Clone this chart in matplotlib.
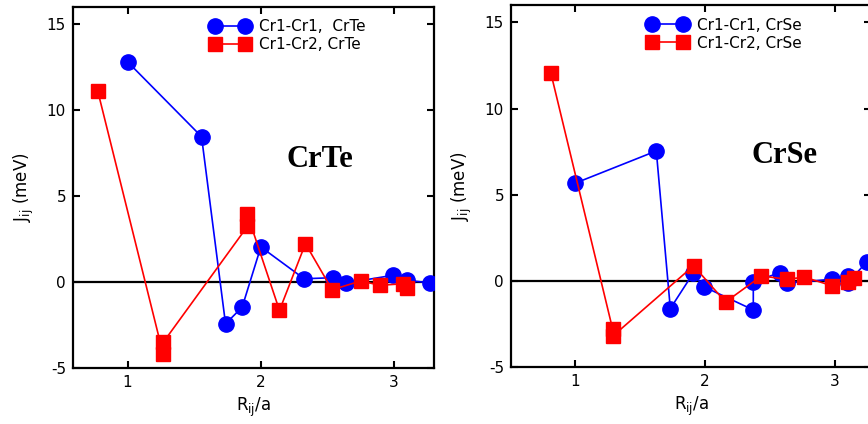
import matplotlib
matplotlib.use('Agg')
import matplotlib.pyplot as plt

plt.rcParams['axes.unicode_minus'] = False

# CrTe, Cr1-Cr1 and Cr1-Cr2 exchange vs distance
te_r11 = [1.0, 1.555, 1.735, 1.86, 2.0, 2.325, 2.54, 2.64, 2.99, 3.10, 3.27]
te_j11 = [12.8, 8.45, -2.43, -1.46, 2.04, 0.19, 0.25, -0.06, 0.39, 0.10, -0.05]
te_r12 = [0.775, 1.267, 1.267, 1.899, 1.899, 2.14, 2.335, 2.535, 2.75, 2.895, 3.07, 3.10]
te_j12 = [11.13, -4.2, -3.51, 3.23, 3.93, -1.65, 2.23, -0.45, 0.06, -0.19, -0.10, -0.35]

# CrSe
se_r11 = [1.0, 1.625, 1.733, 1.909, 1.99, 2.372, 2.372, 2.575, 2.634, 2.98, 3.10, 3.10, 3.245]
se_j11 = [5.67, 7.54, -1.6, 0.45, -0.33, -1.68, -0.06, 0.48, -0.12, 0.1, 0.3, -0.1, 1.1]
se_r12 = [0.812, 1.288, 1.288, 1.912, 2.158, 2.435, 2.63, 2.766, 2.98, 3.10, 3.15]
se_j12 = [12.09, -2.77, -3.21, 0.88, -1.22, 0.29, 0.1, 0.22, -0.28, -0.05, 0.15]

panels = [
    ('CrTe', te_r11, te_j11, te_r12, te_j12, (0.59, 3.30), (2.44, 7.15),
     ['Cr1-Cr1,  CrTe', 'Cr1-Cr2, CrTe']),
    ('CrSe', se_r11, se_j11, se_r12, se_j12, (0.506, 3.28), (2.61, 7.3),
     ['Cr1-Cr1, CrSe', 'Cr1-Cr2, CrSe']),
]

fig = plt.figure(figsize=(8.68, 4.24), dpi=100)
positions = [[0.0841, 0.132, 0.4159, 0.852], [0.5887, 0.134, 0.415, 0.854]]

for pos, (name, r11, j11, r12, j12, xlim, lab_xy, labels) in zip(positions, panels):
    ax = fig.add_axes(pos)
    ax.axhline(0, color='black', lw=1.6, zorder=1)
    ax.plot(r11, j11, '-o', color='blue', lw=1.2, ms=11, mec='blue', label=labels[0], zorder=3)
    ax.plot(r12, j12, '-s', color='red', lw=1.2, ms=10, mec='red', label=labels[1], zorder=4)
    ax.set_xlim(*xlim)
    ax.set_ylim(-5, 16)
    ax.set_xticks([1, 2, 3])
    ax.set_yticks([-5, 0, 5, 10, 15])
    ax.tick_params(direction='in', length=5, width=1.5, top=True, right=True,
                   labelsize=11, pad=5)
    for s in ax.spines.values():
        s.set_linewidth(1.6)
    ax.set_xlabel(r'R$_{\rm ij}$/a', fontsize=12, labelpad=4)
    ax.set_ylabel(r'J$_{\rm ij}$ (meV)', fontsize=12, labelpad=8)
    ax.text(lab_xy[0], lab_xy[1], name, fontsize=22, fontweight='bold',
            family='Liberation Serif', ha='center', va='center')
    ax.legend(loc='upper left', bbox_to_anchor=(0.38, 0.965), frameon=False,
              numpoints=2, handlelength=2.6, handletextpad=0.6, labelspacing=0.2,
              borderpad=0, borderaxespad=0, fontsize=11)

plt.savefig('out.png', dpi=100)
